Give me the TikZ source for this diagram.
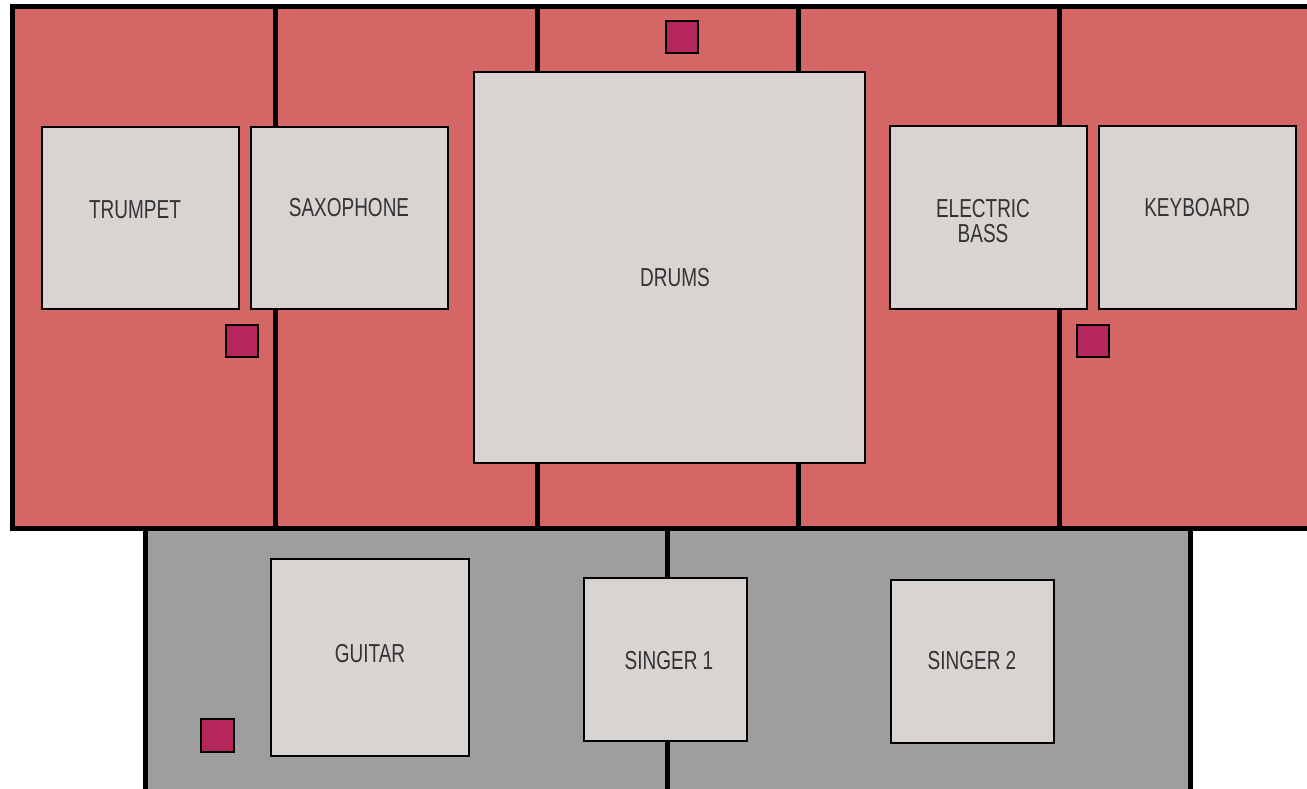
\documentclass[tikz,border=0pt]{standalone}
\usepackage{fontspec}
\setmainfont[FakeStretch=0.73]{Liberation Sans}
\definecolor{bandred}{HTML}{D46666}
\definecolor{floorgray}{HTML}{9E9E9E}
\definecolor{boxgray}{HTML}{D8D4D2}
\definecolor{miccol}{HTML}{B5275A}
\definecolor{textgray}{HTML}{333333}
\begin{document}
\begin{tikzpicture}[x=1pt, y=-1pt,
	wall/.style={line width=5pt},
	box/.style={draw=black, fill=boxgray, line width=2pt},
	mic/.style={draw=black, fill=miccol, line width=2pt},
	lbl/.style={text=textgray, font=\fontsize{26}{25}\selectfont, align=center, inner sep=0pt}]
	\useasboundingbox (0,0) rectangle (1307,788);
	\clip (0,0) rectangle (1307,788);
	% riser and floor
	\fill[bandred] (12,6) rectangle (1320,528);
	\fill[floorgray] (145,528) rectangle (1190,800);
	\foreach \x in {275,537,798,1059}
		\draw[wall] (\x,6) -- (\x,528);
	\draw[wall] (667,528) -- (667,800);
	% instruments
	\draw[box] (42,127) rectangle (239,309);
	\node[lbl] (trumpet) at (135,210) {TRUMPET};
	\draw[box] (251,127) rectangle (448,309);
	\node[lbl] (sax) at (349,208) {SAXOPHONE};
	\draw[box] (474,72) rectangle (865,463);
	\node[lbl] (drums) at (675,278) {DRUMS};
	\draw[box] (890,126) rectangle (1087,309);
	\node[lbl] (bass) at (983,221) {ELECTRIC\\BASS};
	\draw[box] (1099,126) rectangle (1296,309);
	\node[lbl] (keys) at (1197,208) {KEYBOARD};
	\draw[box] (271,559) rectangle (469,756);
	\node[lbl] (guitar) at (370,654) {GUITAR};
	\draw[box] (584,578) rectangle (747,741);
	\node[lbl] (singerA) at (669,661) {SINGER 1};
	\draw[box] (891,580) rectangle (1054,743);
	\node[lbl] (singerB) at (972,661) {SINGER 2};
	% monitors
	\draw[mic] (666,21) rectangle (698,53);
	\draw[mic] (226,325) rectangle (258,357);
	\draw[mic] (1077,325) rectangle (1109,357);
	\draw[mic] (201,719) rectangle (234,752);
	% outline
	\draw[wall] (12,6) rectangle (1320,528);
	\draw[wall] (145,528) -- (145,800);
	\draw[wall] (1190,528) -- (1190,800);
\end{tikzpicture}
\end{document}
